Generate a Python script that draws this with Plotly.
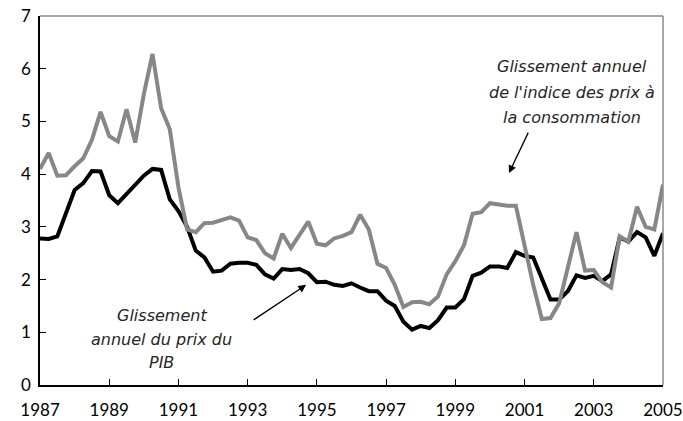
import plotly.graph_objects as go

# Quarterly observations, 1987Q1 .. 2005Q1
start_year = 1987
quarters_per_year = 4

pib = [2.78, 2.77, 2.82, 3.25, 3.70, 3.83, 4.06, 4.05,
       3.60, 3.45, 3.62, 3.80, 3.97, 4.10, 4.08, 3.52,
       3.30, 3.00, 2.55, 2.42, 2.15, 2.17, 2.30, 2.32,
       2.32, 2.28, 2.10, 2.02, 2.20, 2.18, 2.20, 2.12,
       1.95, 1.96, 1.90, 1.88, 1.93, 1.85, 1.78, 1.78,
       1.60, 1.50, 1.20, 1.05, 1.12, 1.08, 1.23, 1.47,
       1.47, 1.63, 2.07, 2.13, 2.25, 2.25, 2.22, 2.52,
       2.45, 2.42, 2.00, 1.62, 1.62, 1.78, 2.08, 2.03,
       2.07, 1.97, 2.10, 2.80, 2.72, 2.90, 2.80, 2.45,
       2.88]

ipc = [4.10, 4.40, 3.97, 3.98, 4.15, 4.30, 4.65, 5.18,
       4.72, 4.62, 5.23, 4.60, 5.52, 6.28, 5.25, 4.85,
       3.75, 2.95, 2.90, 3.07, 3.08, 3.13, 3.18, 3.12,
       2.80, 2.75, 2.50, 2.40, 2.87, 2.60, 2.85, 3.10,
       2.68, 2.65, 2.78, 2.83, 2.90, 3.23, 2.95, 2.30,
       2.22, 1.90, 1.48, 1.57, 1.58, 1.53, 1.68, 2.10,
       2.35, 2.65, 3.25, 3.28, 3.45, 3.43, 3.40, 3.40,
       2.65, 1.90, 1.25, 1.27, 1.55, 2.25, 2.90, 2.17,
       2.18, 1.95, 1.85, 2.82, 2.72, 3.38, 3.00, 2.95,
       3.80]

x = [start_year + i / quarters_per_year for i in range(len(pib))]

x_ticks = list(range(1987, 2006, 2))
y_ticks = list(range(0, 8))

label_ipc = ["Glissement annuel", "de l'indice des prix à", "la consommation"]
label_pib = ["Glissement", "annuel du prix du", "PIB"]

fig = go.Figure()
fig.add_trace(go.Scatter(x=x, y=pib, mode="lines",
                         line=dict(color="#000000", width=4), showlegend=False))
fig.add_trace(go.Scatter(x=x, y=ipc, mode="lines",
                         line=dict(color="#878787", width=4), showlegend=False))

tick_font = dict(family="Lato, Open Sans, sans-serif", size=17, color="#000000")
fig.update_layout(
    width=683, height=421,
    margin=dict(l=40, r=20, t=16, b=36),
    paper_bgcolor="white", plot_bgcolor="white",
    xaxis=dict(range=[1986.9995, 2005.0005], tickvals=x_ticks, ticktext=[str(v) for v in x_ticks],
               ticks="inside", ticklen=6, tickcolor="#000", tickwidth=1,
               showline=True, linecolor="#000", linewidth=1.5,
               showgrid=False, zeroline=False, tickfont=tick_font,
               ticklabelstandoff=9, automargin=False, ticklabeloverflow="allow"),
    yaxis=dict(range=[0, 7.0005], tickvals=y_ticks,
               ticks="inside", ticklen=6, tickcolor="#000", tickwidth=1,
               showline=True, linecolor="#000", linewidth=1.5,
               showgrid=False, zeroline=False, tickfont=tick_font,
               ticklabelstandoff=4, automargin=False, ticklabeloverflow="allow"),
)

# gray top and right frame
fig.add_shape(type="line", xref="paper", yref="paper", x0=0, x1=1, y0=1, y1=1,
              line=dict(color="#8a8a8a", width=1.5))
fig.add_shape(type="line", xref="paper", yref="paper", x0=1, x1=1, y0=0, y1=1,
              line=dict(color="#8a8a8a", width=1.5))

ann_font = dict(family="DejaVu Sans, sans-serif", size=16, color="#262626")
ipc_y = [6.05, 5.54, 5.07]
for txt, yy in zip(label_ipc, ipc_y):
    fig.add_annotation(x=2002.37, y=yy, xref="x", yref="y", text="<i>" + txt + "</i>",
                       showarrow=False, font=ann_font, xanchor="center", yanchor="middle")
pib_y = [1.31, 0.87, 0.42]
for txt, yy in zip(label_pib, pib_y):
    fig.add_annotation(x=1990.51, y=yy, xref="x", yref="y", text="<i>" + txt + "</i>",
                       showarrow=False, font=ann_font, xanchor="center", yanchor="middle")

# arrows
fig.add_annotation(x=2000.55, y=4.02, xref="x", yref="y", text="", showarrow=True,
                   ax=20, ay=-42, arrowhead=2, arrowsize=1.2, arrowwidth=1.3,
                   arrowcolor="#000")
fig.add_annotation(x=1994.69, y=1.90, xref="x", yref="y", text="", showarrow=True,
                   ax=-54, ay=36, arrowhead=2, arrowsize=1.2, arrowwidth=1.3,
                   arrowcolor="#000")

# remove the default page margin so the figure fills the window exactly
fig.write_html("out.html",
               config={"displayModeBar": False},
               post_script="document.body.style.margin='0';document.body.style.overflow='hidden';")
